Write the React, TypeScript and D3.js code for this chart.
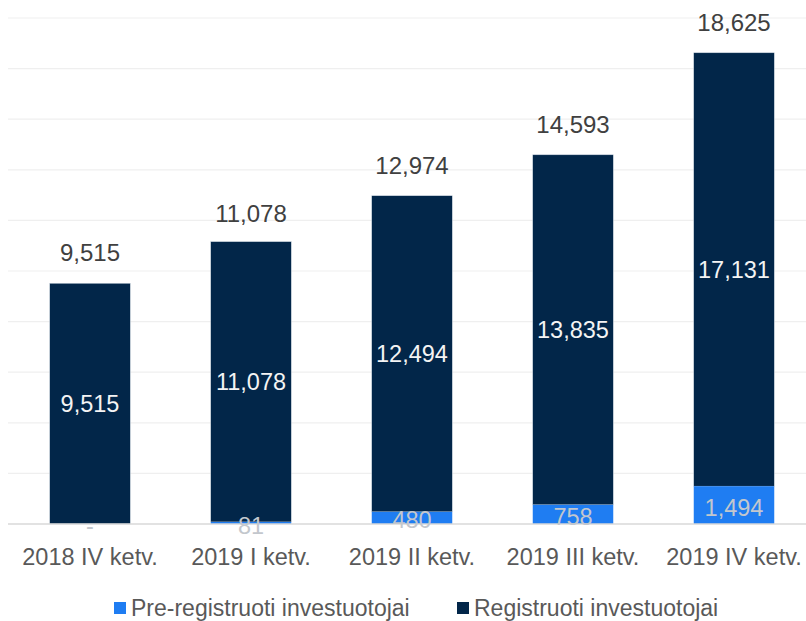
import * as d3 from 'd3';
import { useEffect, useRef } from 'react';

const categories = ['2018 IV ketv.', '2019 I ketv.', '2019 II ketv.', '2019 III ketv.', '2019 IV ketv.'];
const preRegistered = [0, 81, 480, 758, 1494];
const registered = [9515, 11078, 12494, 13835, 17131];
const totals = [9515, 11078, 12974, 14593, 18625];
const seriesNames = ['Pre-registruoti investuotojai', 'Registruoti investuotojai'];

const W = 806;
const H = 621;
const BLUE = '#1f7df2';
const NAVY = '#022649';

export default function App() {
  const ref = useRef<SVGSVGElement>(null);

  useEffect(() => {
    const svg = d3.select(ref.current);
    svg.selectAll('*').remove();

    const font = '"Liberation Sans", Arial, sans-serif';
    const top = 18;
    const bottom = 524;

    const x = d3.scaleBand<string>().domain(categories).range([9.5, 814.5]).paddingInner(0.5).paddingOuter(0.25);
    const y = d3.scaleLinear().domain([0, 20000]).range([bottom, top]);

    // gridlines
    svg
      .append('g')
      .selectAll('line')
      .data(y.ticks(10).filter((d) => d > 0))
      .enter()
      .append('line')
      .attr('x1', 8)
      .attr('x2', 814)
      .attr('y1', (d) => y(d))
      .attr('y2', (d) => y(d))
      .style('stroke', '#efefef')
      .style('stroke-width', '1.2px');

    const rows = categories.map((c, i) => ({ c, pre: preRegistered[i], reg: registered[i], total: totals[i] }));

    // registered (top)
    svg
      .selectAll('.reg')
      .data(rows)
      .enter()
      .append('rect')
      .attr('x', (d) => x(d.c)!)
      .attr('width', x.bandwidth())
      .attr('y', (d) => y(d.pre + d.reg))
      .attr('height', (d) => y(d.pre) - y(d.pre + d.reg))
      .style('fill', NAVY)
      .style('stroke', '#c9d3de')
      .style('stroke-width', '0.5px');

    // pre-registered (bottom)
    svg
      .selectAll('.pre')
      .data(rows)
      .enter()
      .append('rect')
      .attr('x', (d) => x(d.c)!)
      .attr('width', x.bandwidth())
      .attr('y', (d) => y(d.pre))
      .attr('height', (d) => y(0) - y(d.pre))
      .style('fill', BLUE);

    // axis line
    svg
      .append('line')
      .attr('x1', 8)
      .attr('x2', 814)
      .attr('y1', bottom)
      .attr('y2', bottom)
      .style('stroke', '#d9d9d9')
      .style('stroke-width', '1.5px');

    const cx = (d: { c: string }) => x(d.c)! + x.bandwidth() / 2;

    // labels inside navy segments
    svg
      .selectAll('.reg-label')
      .data(rows)
      .enter()
      .append('text')
      .attr('x', cx)
      .attr('y', (d) => (y(d.pre) + y(d.pre + d.reg)) / 2)
      .attr('dy', '0.36em')
      .style('text-anchor', 'middle')
      .style('font-family', font)
      .style('font-size', '23.5px')
      .style('fill', '#f4f4f4')
      .text((d) => d3.format(',')(d.reg));

    // labels for blue segments
    svg
      .selectAll('.pre-label')
      .data(rows)
      .enter()
      .append('text')
      .attr('x', cx)
      .attr('y', (d) => Math.min((y(0) + y(d.pre)) / 2, bottom - 1) + (d.pre < 200 ? 3 : 2))
      .attr('dy', '0.36em')
      .style('text-anchor', 'middle')
      .style('font-family', font)
      .style('font-size', '23.5px')
      .style('fill', '#c3c7cd')
      .text((d) => (d.pre === 0 ? '-' : d3.format(',')(d.pre)));

    // totals
    svg
      .selectAll('.total')
      .data(rows)
      .enter()
      .append('text')
      .attr('x', cx)
      .attr('y', (d) => y(d.total) - 22)
      .style('text-anchor', 'middle')
      .style('font-family', font)
      .style('font-size', '24px')
      .style('fill', '#404040')
      .text((d) => d3.format(',')(d.total));

    // category labels
    svg
      .selectAll('.cat')
      .data(categories)
      .enter()
      .append('text')
      .attr('x', (d) => x(d)! + x.bandwidth() / 2)
      .attr('y', 565)
      .style('text-anchor', 'middle')
      .style('font-family', font)
      .style('font-size', '23.5px')
      .style('fill', '#595959')
      .text((d) => d);

    // legend
    const legendX = [114, 457];
    const legend = svg
      .selectAll('.legend')
      .data(seriesNames)
      .enter()
      .append('g')
      .attr('transform', (d, i) => `translate(${legendX[i]}, 602)`);

    legend
      .append('rect')
      .attr('width', 12)
      .attr('height', 12)
      .style('fill', (d, i) => (i === 0 ? BLUE : NAVY));

    legend
      .append('text')
      .attr('x', 17)
      .attr('y', 14)
      .style('font-family', font)
      .style('font-size', '23px')
      .style('fill', '#595959')
      .text((d) => d);
  }, []);

  return (
    <div style={{ position: 'absolute', left: 0, top: 0, width: W, height: H, overflow: 'hidden' }}>
      <svg ref={ref} width={W} height={H} style={{ display: 'block', background: '#fff' }} />
    </div>
  );
}
